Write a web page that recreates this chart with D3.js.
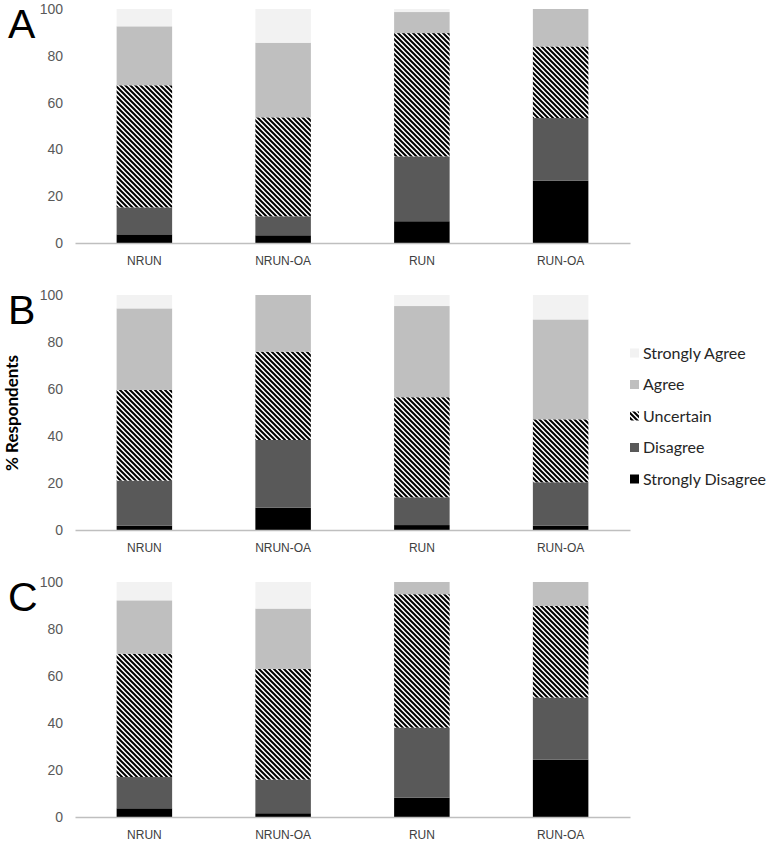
<!DOCTYPE html>
<html>
<head>
<meta charset="utf-8">
<script src="https://cdn.jsdelivr.net/npm/d3@7"></script>
<style>
  body { margin: 0; background: #fff; }
  svg { display: block; font-family: "Lato", "Open Sans", sans-serif; }
</style>
</head>
<body>
<script>
// Categories and response levels (bottom to top of each stack)
var categories = ["NRUN", "NRUN-OA", "RUN", "RUN-OA"]
var responses = ["Strongly Disagree", "Disagree", "Uncertain", "Agree", "Strongly Agree"]
var yTicks = [0, 20, 40, 60, 80, 100]

// % respondents per category, ordered like responses
var panelA = [
  [3.7, 11.5, 52.2, 25.2, 7.4],
  [3.3, 8.1, 42.3, 31.9, 14.4],
  [9.3, 27.7, 52.7, 9.0, 1.3],
  [26.6, 26.8, 30.6, 16.0, 0]
]
var panelB = [
  [1.8, 19.2, 38.6, 34.7, 5.7],
  [9.5, 28.8, 37.6, 24.1, 0],
  [2.1, 11.8, 42.6, 38.8, 4.7],
  [1.8, 18.5, 26.8, 42.5, 10.4]
]
var panelC = [
  [3.7, 13.3, 52.5, 22.7, 7.8],
  [1.6, 14.3, 47.1, 25.7, 11.3],
  [8.2, 29.8, 56.8, 5.2, 0],
  [24.4, 26.4, 39.0, 10.2, 0]
]

var panels = [
  {label: "A", values: panelA, top: 9, bottom: 243},
  {label: "B", values: panelB, top: 295, bottom: 530},
  {label: "C", values: panelC, top: 582, bottom: 817}
]

var fills = {
  "Strongly Disagree": "#000000",
  "Disagree": "#595959",
  "Uncertain": "url(#hatch)",
  "Agree": "#bfbfbf",
  "Strongly Agree": "#f2f2f2"
}

var svgW = 768
var svgH = 845
var plotLeft = 75
var plotRight = 630

var svg = d3.select("body")
            .append("svg")
            .attr("width", svgW)
            .attr("height", svgH)

// Diagonal hatch for "Uncertain"
var hp = 5
var hatch = svg.append("defs")
               .append("pattern")
               .attr("id", "hatch")
               .attr("patternUnits", "userSpaceOnUse")
               .attr("width", hp)
               .attr("height", hp)
hatch.append("rect")
     .attr("width", hp)
     .attr("height", hp)
     .attr("fill", "#fff")
hatch.append("path")
     .attr("d", "M-1,-1 L" + (hp + 1) + "," + (hp + 1) +
                " M-1," + (hp - 1) + " L1," + (hp + 1) +
                " M" + (hp - 1) + ",-1 L" + (hp + 1) + ",1")
     .attr("stroke", "#000")
     .attr("stroke-width", 2)

var xScale = d3.scaleBand()
               .domain(categories)
               .range([plotLeft, plotRight])
               .paddingInner(0.6)
               .paddingOuter(0.3)

var stack = d3.stack().keys(responses)

panels.forEach(function(panel) {

  // Build table rows for d3.stack
  var rows = categories.map(function(cat, i) {
    var row = {category: cat}
    responses.forEach(function(r, j) { row[r] = panel.values[i][j] })
    return row
  })
  var series = stack(rows)

  var yScale = d3.scaleLinear()
                 .domain([0, 100])
                 .range([panel.bottom, panel.top])

  var g = svg.append("g")

  // Stacked bars
  g.selectAll("g.layer")
   .data(series)
   .enter()
   .append("g")
     .attr("class", "layer")
     .attr("fill", function(d) { return fills[d.key] })
   .selectAll("rect")
   .data(function(d) { return d })
   .enter()
   .append("rect")
     .attr("x", function(d) { return xScale(d.data.category) })
     .attr("width", xScale.bandwidth())
     .attr("y", function(d) { return yScale(d[1]) })
     .attr("height", function(d) { return yScale(d[0]) - yScale(d[1]) })

  // y tick labels
  var yAxis = d3.axisLeft(yScale).tickValues(yTicks).tickSize(0).tickPadding(0)
  var yG = g.append("g")
            .attr("transform", "translate(" + (plotLeft - 12) + ",0)")
            .call(yAxis)
  yG.select(".domain").remove()
  yG.selectAll("text")
    .attr("fill", "#595959")
    .style("font-size", "14px")

  // x axis
  var xAxis = d3.axisBottom(xScale).tickSize(0).tickPadding(13)
  var xG = g.append("g")
            .attr("transform", "translate(0," + panel.bottom + ")")
            .call(xAxis)
  xG.select(".domain")
    .attr("stroke", "#bfbfbf")
    .attr("stroke-width", 1.5)
  xG.selectAll("text")
    .attr("fill", "#404040")
    .style("font-size", "12px")

  // Panel letter
  svg.append("text")
     .attr("x", 8)
     .attr("y", panel.top + 29)
     .style("font-family", "Liberation Sans, Arial, sans-serif")
     .style("font-size", "41px")
     .attr("fill", "#000")
     .text(panel.label)
})

// y axis title
svg.append("text")
   .attr("transform", "translate(18,413) rotate(-90)")
   .style("text-anchor", "middle")
   .style("font-size", "17px")
   .style("font-weight", "bold")
   .attr("fill", "#000")
   .text("% Respondents")

// Legend (top to bottom: Strongly Agree ... Strongly Disagree)
var legendItems = responses.slice().reverse()
var legend = svg.append("g")
                .attr("transform", "translate(630,353)")

legend.selectAll("rect")
      .data(legendItems)
      .enter()
      .append("rect")
        .attr("x", 0)
        .attr("y", function(d, i) { return i * 31.5 - 4.5 })
        .attr("width", 9)
        .attr("height", 9)
        .attr("fill", function(d) { return fills[d] })

legend.selectAll("text")
      .data(legendItems)
      .enter()
      .append("text")
        .attr("x", 13)
        .attr("y", function(d, i) { return i * 31.5 + 5.5 })
        .style("font-size", "16px")
        .attr("fill", "#262626")
        .text(function(d) { return d })
</script>
</body>
</html>
